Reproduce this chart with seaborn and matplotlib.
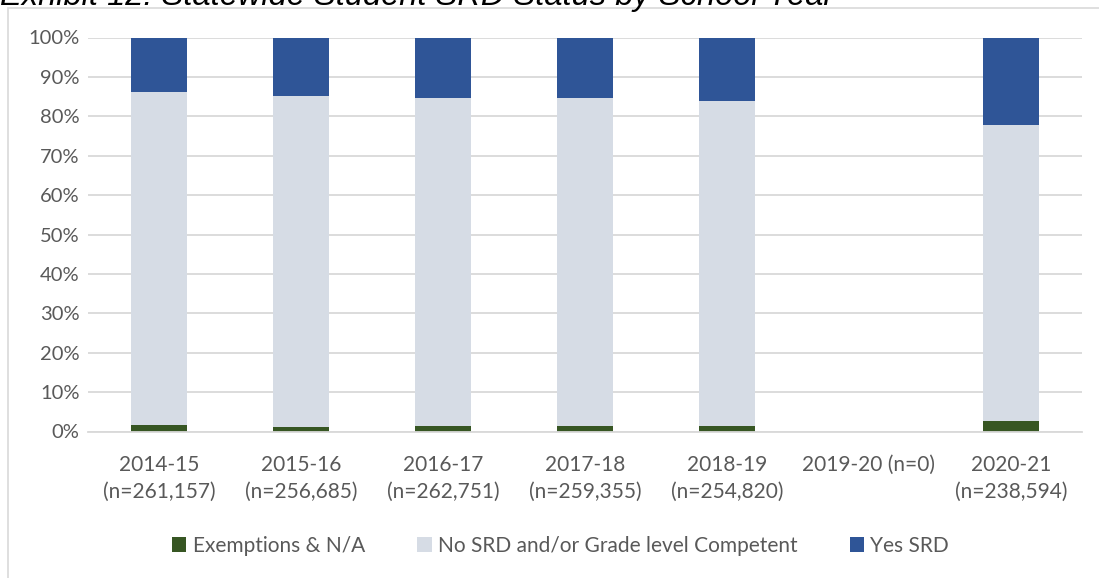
import matplotlib
matplotlib.use("Agg")
import matplotlib.pyplot as plt
import seaborn as sns
import pandas as pd
from matplotlib.patches import Rectangle, Patch

categories = ["2014-15\n(n=261,157)", "2015-16\n(n=256,685)", "2016-17\n(n=262,751)",
              "2017-18\n(n=259,355)", "2018-19\n(n=254,820)", "2019-20 (n=0)\n",
              "2020-21\n(n=238,594)"]
exempt = [1.65, 1.15, 1.3, 1.4, 1.3, 0.0, 2.7]
no_srd = [84.45, 84.05, 83.3, 83.2, 82.6, 0.0, 75.1]
yes_srd = [13.9, 14.8, 15.4, 15.4, 16.1, 0.0, 22.2]
series_names = ["Exemptions & N/A", "No SRD and/or Grade level Competent", "Yes SRD"]
colors = ["#375623", "#D6DCE5", "#2F5597"]

sns.set_theme(style="white")
plt.rcParams['font.family'] = ['Lato', 'DejaVu Sans']

df = pd.DataFrame({"cat": categories, "ex": exempt, "no": no_srd, "yes": yes_srd})
df["top2"] = df["ex"] + df["no"]
df["top3"] = df["top2"] + df["yes"]

fig = plt.figure(figsize=(10.99, 5.78), dpi=100)
ax = fig.add_axes([88/1099, (578-431.5)/578, 994/1099, 394/578])

w = 0.395
sns.barplot(data=df, x="cat", y="top3", color=colors[2], width=w, ax=ax, saturation=1, linewidth=0)
sns.barplot(data=df, x="cat", y="top2", color=colors[1], width=w, ax=ax, saturation=1, linewidth=0)
sns.barplot(data=df, x="cat", y="ex", color=colors[0], width=w, ax=ax, saturation=1, linewidth=0)

ax.set_ylim(0, 100)
ax.set_xlim(-0.5, len(categories) - 0.5)
ax.set_yticks(range(0, 101, 10))
ax.set_yticklabels([f"{v}%" for v in range(0, 101, 10)])
ax.yaxis.grid(True, color="#D9D9D9", linewidth=1.3)
ax.set_axisbelow(True)
for s in ["left", "right", "top"]:
    ax.spines[s].set_visible(False)
ax.spines["bottom"].set_color("#D9D9D9")
ax.spines["bottom"].set_linewidth(1.3)
ax.set_xlabel("")
ax.set_ylabel("")
ax.tick_params(axis="y", length=0, pad=6, labelsize=14.5, labelcolor="#595959")
ax.tick_params(axis="x", length=0, pad=17, labelsize=15, labelcolor="#595959")
for t in ax.get_xticklabels():
    t.set_linespacing(1.4)

handles = [Patch(facecolor=c, edgecolor="none") for c in colors]
fig.legend(handles, series_names, loc="center", bbox_to_anchor=(0.51, 1 - 546/578),
           ncol=3, frameon=False, fontsize=15, labelcolor="#595959",
           handlelength=0.7, handleheight=0.7, handletextpad=0.3, columnspacing=2.5)

fig.patches.append(Rectangle((8/1099, -0.1), 1.2, 1 - 8/578 + 0.1, transform=fig.transFigure,
                             fill=False, edgecolor="#D9D9D9", linewidth=1.2))

fig.text(0.0, 1 - 5/578, "Exhibit 12: Statewide Student SRD Status by School Year",
         fontsize=23.5, fontstyle="italic", family=["Liberation Sans", "DejaVu Sans"],
         va="baseline", ha="left", color="black")

fig.savefig("out.png", dpi=100)
